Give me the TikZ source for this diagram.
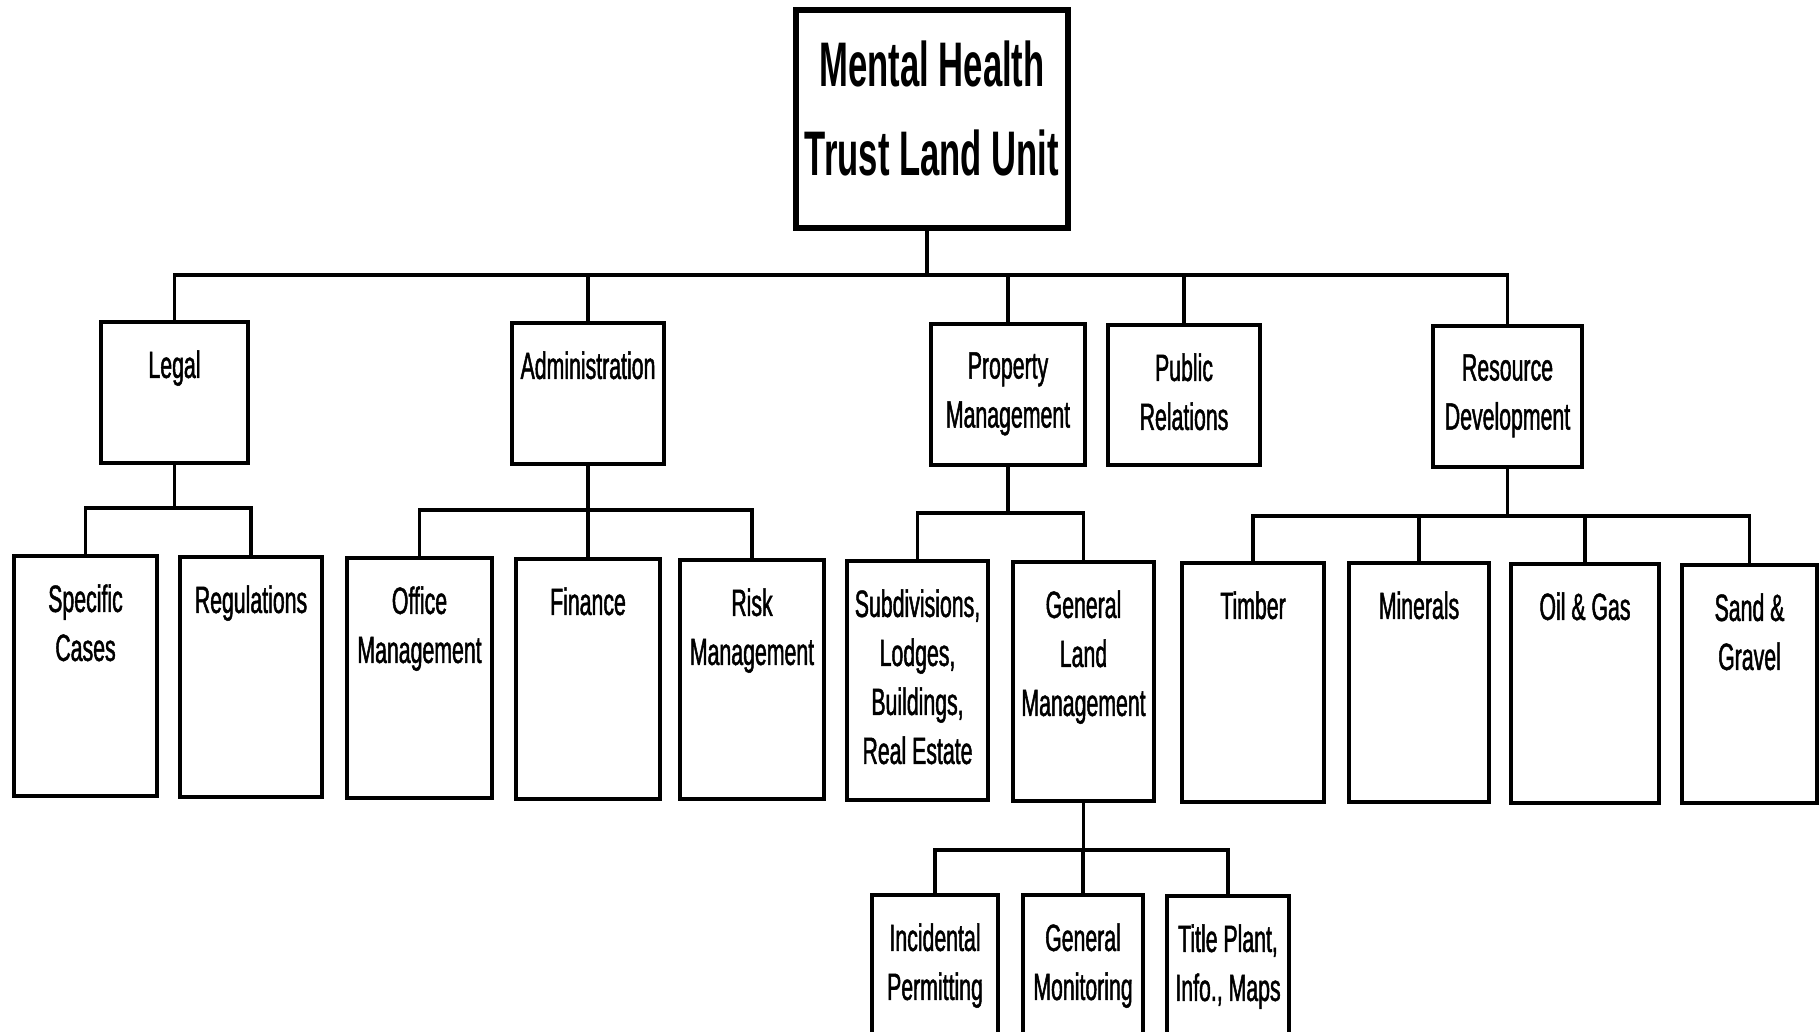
\documentclass[tikz,border=0pt]{standalone}
\usepackage{fontspec}
\newfontfamily\lblfamily[FakeStretch=0.56,FakeBold=1.2]{Liberation Sans}
\newfontfamily\ttlfamily[FakeStretch=0.55]{Liberation Sans Bold}
\tikzset{
  box/.style={draw, line width=1.6pt, inner sep=0pt, fill=white},
  topbox/.style={draw, line width=2.6pt, inner sep=0pt, fill=white},
  lbl/.style={font={\lblfamily\fontsize{19}{24.5}\selectfont}, align=center, inner sep=0pt, anchor=north},
  ttl/.style={font={\ttlfamily\fontsize{31.5}{44.5}\selectfont}, align=center, inner sep=0pt, anchor=north},
  conn/.style={line width=1.6pt, line cap=rect}
}
\newcommand\ocbox[6]{%
  \node[box, minimum width={(#4-#2)*0.5pt}, minimum height={(#5-#3)*0.5pt}] (#1) at ({(#2+#4)/2},{(#3+#5)/2}) {};
  \node[lbl] (#1-t) at ({(#2+#4)/2},{#3+28}) {#6};}
\begin{document}
\begin{tikzpicture}[x=0.5pt, y=-0.5pt]
\path[use as bounding box] (0,0) rectangle (1819,1032);
\clip (0,0) rectangle (1819,1032);
\fill[white] (0,0) rectangle (1819,1032);
% top
\node[topbox, minimum width={(1068-796)*0.5pt}, minimum height={(228-10)*0.5pt}] (top) at ({(796+1068)/2},{(10+228)/2}) {};
\node[ttl] (top-t) at (932,40) {Mental Health\\Trust Land Unit};
% level 1
\ocbox{legal}{101}{322}{248}{463}{Legal}
\ocbox{admin}{512}{323}{664}{464}{Administration}
\ocbox{propm}{931}{324}{1085}{465}{Property\\Management}
\ocbox{pubrel}{1108}{325}{1260}{465}{Public\\Relations}
\ocbox{resdev}{1433}{326}{1582}{467}{Resource\\Development}
% level 2
\ocbox{spec}{14}{556}{157}{796}{Specific\\Cases}
\ocbox{regs}{180}{557}{322}{797}{Regulations}
\ocbox{office}{347}{558}{492}{798}{Office\\Management}
\ocbox{finance}{516}{559}{660}{799}{Finance}
\ocbox{risk}{680}{560}{824}{799}{Risk\\Management}
\ocbox{subdiv}{847}{561}{988}{800}{Subdivisions,\\Lodges,\\Buildings,\\Real Estate}
\ocbox{glm}{1013}{562}{1154}{801}{General\\Land\\Management}
\ocbox{timber}{1182}{563}{1324}{802}{Timber}
\ocbox{minerals}{1349}{563}{1489}{802}{Minerals}
\ocbox{oilgas}{1511}{564}{1659}{803}{Oil \& Gas}
\ocbox{sand}{1682}{565}{1817}{803}{Sand \&\\Gravel}
% level 3
\ocbox{incid}{872}{895}{998}{1050}{Incidental\\Permitting}
\ocbox{genmon}{1023}{895}{1143}{1050}{General\\Monitoring}
\ocbox{title}{1167}{896}{1289}{1050}{Title Plant,\\Info., Maps}
% bus coordinates
\coordinate (b1) at (0,275);
\coordinate (b2l) at (0,508);
\coordinate (b2a) at (0,510);
\coordinate (b2p) at (0,513);
\coordinate (b2r) at (0,516);
\coordinate (b3) at (0,850);
\coordinate (topstem) at ([xshift=-2.5pt]top.south);
% connectors level 1
\draw[conn] (topstem) -- (topstem |- b1);
\draw[conn] (legal.north) |- (resdev.north |- b1) -- (resdev.north);
\draw[conn] (admin.north) -- (admin.north |- b1);
\draw[conn] (propm.north) -- (propm.north |- b1);
\draw[conn] (pubrel.north) -- (pubrel.north |- b1);
% legal
\draw[conn] (legal.south) -- (legal.south |- b2l);
\draw[conn] (spec.north) |- (regs.north |- b2l) -- (regs.north);
% admin
\draw[conn] (admin.south) -- (admin.south |- b2a);
\draw[conn] (finance.north) -- (finance.north |- b2a);
\draw[conn] (office.north) |- (risk.north |- b2a) -- (risk.north);
% property
\draw[conn] (propm.south) -- (propm.south |- b2p);
\draw[conn] (subdiv.north) |- (glm.north |- b2p) -- (glm.north);
% resource
\draw[conn] (resdev.south) -- (resdev.south |- b2r);
\draw[conn] (timber.north) |- (sand.north |- b2r) -- (sand.north);
\draw[conn] (minerals.north) -- (minerals.north |- b2r);
\draw[conn] (oilgas.north) -- (oilgas.north |- b2r);
% glm
\draw[conn] (glm.south) -- (glm.south |- b3);
\draw[conn] (genmon.north) -- (genmon.north |- b3);
\draw[conn] (incid.north) |- (title.north |- b3) -- (title.north);
\end{tikzpicture}
\end{document}
